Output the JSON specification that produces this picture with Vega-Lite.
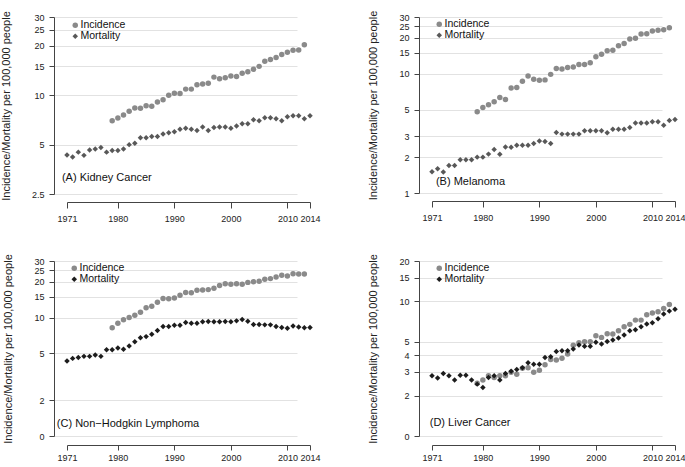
{
"$schema": "https://vega.github.io/schema/vega-lite/v6.json",
"background": "white",
"padding": {"left": 0, "top": 10, "right": 0, "bottom": 0},
"datasets": {
"A": [
{"series":"Incidence","year":1979,"value":7.0},{"series":"Incidence","year":1980,"value":7.27},{"series":"Incidence","year":1981,"value":7.58},{"series":"Incidence","year":1982,"value":7.98},{"series":"Incidence","year":1983,"value":8.36},{"series":"Incidence","year":1984,"value":8.33},{"series":"Incidence","year":1985,"value":8.64},{"series":"Incidence","year":1986,"value":8.56},{"series":"Incidence","year":1987,"value":9.1},{"series":"Incidence","year":1988,"value":9.4},
{"series":"Incidence","year":1989,"value":10.0},{"series":"Incidence","year":1990,"value":10.3},{"series":"Incidence","year":1991,"value":10.25},{"series":"Incidence","year":1992,"value":10.9},{"series":"Incidence","year":1993,"value":10.9},{"series":"Incidence","year":1994,"value":11.6},{"series":"Incidence","year":1995,"value":11.7},{"series":"Incidence","year":1996,"value":11.85},{"series":"Incidence","year":1997,"value":12.9},{"series":"Incidence","year":1998,"value":12.6},
{"series":"Incidence","year":1999,"value":12.8},{"series":"Incidence","year":2000,"value":13.1},{"series":"Incidence","year":2001,"value":13.0},{"series":"Incidence","year":2002,"value":13.6},{"series":"Incidence","year":2003,"value":13.9},{"series":"Incidence","year":2004,"value":14.4},{"series":"Incidence","year":2005,"value":15.0},{"series":"Incidence","year":2006,"value":16.1},{"series":"Incidence","year":2007,"value":16.5},{"series":"Incidence","year":2008,"value":17.0},
{"series":"Incidence","year":2009,"value":17.7},{"series":"Incidence","year":2010,"value":18.3},{"series":"Incidence","year":2011,"value":18.8},{"series":"Incidence","year":2012,"value":18.9},{"series":"Incidence","year":2013,"value":20.3},
{"series":"Mortality","year":1971,"value":4.32},{"series":"Mortality","year":1972,"value":4.2},{"series":"Mortality","year":1973,"value":4.5},{"series":"Mortality","year":1974,"value":4.3},{"series":"Mortality","year":1975,"value":4.63},{"series":"Mortality","year":1976,"value":4.7},{"series":"Mortality","year":1977,"value":4.8},{"series":"Mortality","year":1978,"value":4.5},{"series":"Mortality","year":1979,"value":4.6},{"series":"Mortality","year":1980,"value":4.6},
{"series":"Mortality","year":1981,"value":4.7},{"series":"Mortality","year":1982,"value":5.0},{"series":"Mortality","year":1983,"value":5.1},{"series":"Mortality","year":1984,"value":5.5},{"series":"Mortality","year":1985,"value":5.5},{"series":"Mortality","year":1986,"value":5.6},{"series":"Mortality","year":1987,"value":5.6},{"series":"Mortality","year":1988,"value":5.8},{"series":"Mortality","year":1989,"value":5.9},{"series":"Mortality","year":1990,"value":6.0},
{"series":"Mortality","year":1991,"value":6.2},{"series":"Mortality","year":1992,"value":6.3},{"series":"Mortality","year":1993,"value":6.2},{"series":"Mortality","year":1994,"value":6.1},{"series":"Mortality","year":1995,"value":6.4},{"series":"Mortality","year":1996,"value":6.1},{"series":"Mortality","year":1997,"value":6.35},{"series":"Mortality","year":1998,"value":6.4},{"series":"Mortality","year":1999,"value":6.4},{"series":"Mortality","year":2000,"value":6.3},
{"series":"Mortality","year":2001,"value":6.5},{"series":"Mortality","year":2002,"value":6.7},{"series":"Mortality","year":2003,"value":6.7},{"series":"Mortality","year":2004,"value":7.1},{"series":"Mortality","year":2005,"value":7.0},{"series":"Mortality","year":2006,"value":7.3},{"series":"Mortality","year":2007,"value":7.3},{"series":"Mortality","year":2008,"value":7.2},{"series":"Mortality","year":2009,"value":7.0},{"series":"Mortality","year":2010,"value":7.4},
{"series":"Mortality","year":2011,"value":7.5},{"series":"Mortality","year":2012,"value":7.5},{"series":"Mortality","year":2013,"value":7.2},{"series":"Mortality","year":2014,"value":7.5}
],
"B": [
{"series":"Incidence","year":1979,"value":4.8},{"series":"Incidence","year":1980,"value":5.22},{"series":"Incidence","year":1981,"value":5.5},{"series":"Incidence","year":1982,"value":5.82},{"series":"Incidence","year":1983,"value":6.33},{"series":"Incidence","year":1984,"value":6.09},{"series":"Incidence","year":1985,"value":7.62},{"series":"Incidence","year":1986,"value":7.67},{"series":"Incidence","year":1987,"value":8.67},{"series":"Incidence","year":1988,"value":9.6},
{"series":"Incidence","year":1989,"value":9.0},{"series":"Incidence","year":1990,"value":8.85},{"series":"Incidence","year":1991,"value":8.9},{"series":"Incidence","year":1992,"value":9.9},{"series":"Incidence","year":1993,"value":11.1},{"series":"Incidence","year":1994,"value":11.0},{"series":"Incidence","year":1995,"value":11.3},{"series":"Incidence","year":1996,"value":11.4},{"series":"Incidence","year":1997,"value":12.0},{"series":"Incidence","year":1998,"value":12.0},
{"series":"Incidence","year":1999,"value":12.4},{"series":"Incidence","year":2000,"value":13.9},{"series":"Incidence","year":2001,"value":14.6},{"series":"Incidence","year":2002,"value":15.6},{"series":"Incidence","year":2003,"value":15.8},{"series":"Incidence","year":2004,"value":17.2},{"series":"Incidence","year":2005,"value":18.0},{"series":"Incidence","year":2006,"value":19.6},{"series":"Incidence","year":2007,"value":19.9},{"series":"Incidence","year":2008,"value":21.6},
{"series":"Incidence","year":2009,"value":21.7},{"series":"Incidence","year":2010,"value":22.9},{"series":"Incidence","year":2011,"value":23.2},{"series":"Incidence","year":2012,"value":23.4},{"series":"Incidence","year":2013,"value":24.4},
{"series":"Mortality","year":1971,"value":1.51},{"series":"Mortality","year":1972,"value":1.6},{"series":"Mortality","year":1973,"value":1.5},{"series":"Mortality","year":1974,"value":1.7},{"series":"Mortality","year":1975,"value":1.7},{"series":"Mortality","year":1976,"value":1.9},{"series":"Mortality","year":1977,"value":1.9},{"series":"Mortality","year":1978,"value":1.9},{"series":"Mortality","year":1979,"value":2.0},{"series":"Mortality","year":1980,"value":2.0},
{"series":"Mortality","year":1981,"value":2.12},{"series":"Mortality","year":1982,"value":2.32},{"series":"Mortality","year":1983,"value":2.11},{"series":"Mortality","year":1984,"value":2.43},{"series":"Mortality","year":1985,"value":2.42},{"series":"Mortality","year":1986,"value":2.52},{"series":"Mortality","year":1987,"value":2.52},{"series":"Mortality","year":1988,"value":2.52},{"series":"Mortality","year":1989,"value":2.6},{"series":"Mortality","year":1990,"value":2.73},
{"series":"Mortality","year":1991,"value":2.7},{"series":"Mortality","year":1992,"value":2.6},{"series":"Mortality","year":1993,"value":3.22},{"series":"Mortality","year":1994,"value":3.12},{"series":"Mortality","year":1995,"value":3.12},{"series":"Mortality","year":1996,"value":3.12},{"series":"Mortality","year":1997,"value":3.12},{"series":"Mortality","year":1998,"value":3.33},{"series":"Mortality","year":1999,"value":3.33},{"series":"Mortality","year":2000,"value":3.33},
{"series":"Mortality","year":2001,"value":3.33},{"series":"Mortality","year":2002,"value":3.2},{"series":"Mortality","year":2003,"value":3.43},{"series":"Mortality","year":2004,"value":3.43},{"series":"Mortality","year":2005,"value":3.43},{"series":"Mortality","year":2006,"value":3.55},{"series":"Mortality","year":2007,"value":3.86},{"series":"Mortality","year":2008,"value":3.86},{"series":"Mortality","year":2009,"value":3.86},{"series":"Mortality","year":2010,"value":3.96},
{"series":"Mortality","year":2011,"value":3.96},{"series":"Mortality","year":2012,"value":3.7},{"series":"Mortality","year":2013,"value":4.06},{"series":"Mortality","year":2014,"value":4.14}
],
"C": [
{"series":"Incidence","year":1979,"value":8.2},{"series":"Incidence","year":1980,"value":8.96},{"series":"Incidence","year":1981,"value":9.56},{"series":"Incidence","year":1982,"value":10.0},{"series":"Incidence","year":1983,"value":10.46},{"series":"Incidence","year":1984,"value":11.1},{"series":"Incidence","year":1985,"value":12.1},{"series":"Incidence","year":1986,"value":12.45},{"series":"Incidence","year":1987,"value":13.45},{"series":"Incidence","year":1988,"value":14.5},
{"series":"Incidence","year":1989,"value":14.4},{"series":"Incidence","year":1990,"value":14.6},{"series":"Incidence","year":1991,"value":15.4},{"series":"Incidence","year":1992,"value":16.3},{"series":"Incidence","year":1993,"value":16.2},{"series":"Incidence","year":1994,"value":17.0},{"series":"Incidence","year":1995,"value":17.1},{"series":"Incidence","year":1996,"value":17.2},{"series":"Incidence","year":1997,"value":17.7},{"series":"Incidence","year":1998,"value":18.6},
{"series":"Incidence","year":1999,"value":19.3},{"series":"Incidence","year":2000,"value":19.1},{"series":"Incidence","year":2001,"value":19.3},{"series":"Incidence","year":2002,"value":19.1},{"series":"Incidence","year":2003,"value":19.8},{"series":"Incidence","year":2004,"value":20.05},{"series":"Incidence","year":2005,"value":20.2},{"series":"Incidence","year":2006,"value":21.0},{"series":"Incidence","year":2007,"value":21.3},{"series":"Incidence","year":2008,"value":22.0},
{"series":"Incidence","year":2009,"value":22.7},{"series":"Incidence","year":2010,"value":22.4},{"series":"Incidence","year":2011,"value":23.4},{"series":"Incidence","year":2012,"value":23.3},{"series":"Incidence","year":2013,"value":23.3},
{"series":"Mortality","year":1971,"value":4.3},{"series":"Mortality","year":1972,"value":4.52},{"series":"Mortality","year":1973,"value":4.6},{"series":"Mortality","year":1974,"value":4.7},{"series":"Mortality","year":1975,"value":4.7},{"series":"Mortality","year":1976,"value":4.83},{"series":"Mortality","year":1977,"value":4.7},{"series":"Mortality","year":1978,"value":5.35},{"series":"Mortality","year":1979,"value":5.35},{"series":"Mortality","year":1980,"value":5.53},
{"series":"Mortality","year":1981,"value":5.4},{"series":"Mortality","year":1982,"value":5.74},{"series":"Mortality","year":1983,"value":6.24},{"series":"Mortality","year":1984,"value":6.75},{"series":"Mortality","year":1985,"value":6.9},{"series":"Mortality","year":1986,"value":7.24},{"series":"Mortality","year":1987,"value":7.78},{"series":"Mortality","year":1988,"value":8.4},{"series":"Mortality","year":1989,"value":8.4},{"series":"Mortality","year":1990,"value":8.6},
{"series":"Mortality","year":1991,"value":8.6},{"series":"Mortality","year":1992,"value":9.08},{"series":"Mortality","year":1993,"value":8.96},{"series":"Mortality","year":1994,"value":8.96},{"series":"Mortality","year":1995,"value":9.2},{"series":"Mortality","year":1996,"value":9.26},{"series":"Mortality","year":1997,"value":9.2},{"series":"Mortality","year":1998,"value":9.2},{"series":"Mortality","year":1999,"value":9.26},{"series":"Mortality","year":2000,"value":9.2},
{"series":"Mortality","year":2001,"value":9.37},{"series":"Mortality","year":2002,"value":9.62},{"series":"Mortality","year":2003,"value":9.3},{"series":"Mortality","year":2004,"value":8.73},{"series":"Mortality","year":2005,"value":8.73},{"series":"Mortality","year":2006,"value":8.67},{"series":"Mortality","year":2007,"value":8.67},{"series":"Mortality","year":2008,"value":8.4},{"series":"Mortality","year":2009,"value":8.24},{"series":"Mortality","year":2010,"value":8.13},
{"series":"Mortality","year":2011,"value":8.5},{"series":"Mortality","year":2012,"value":8.3},{"series":"Mortality","year":2013,"value":8.2},{"series":"Mortality","year":2014,"value":8.24}
],
"D": [
{"series":"Incidence","year":1979,"value":2.47},{"series":"Incidence","year":1980,"value":2.61},{"series":"Incidence","year":1981,"value":2.8},{"series":"Incidence","year":1982,"value":2.72},{"series":"Incidence","year":1983,"value":2.8},{"series":"Incidence","year":1984,"value":2.8},{"series":"Incidence","year":1985,"value":2.98},{"series":"Incidence","year":1986,"value":2.88},{"series":"Incidence","year":1987,"value":3.19},{"series":"Incidence","year":1988,"value":3.22},
{"series":"Incidence","year":1989,"value":2.98},{"series":"Incidence","year":1990,"value":3.08},{"series":"Incidence","year":1991,"value":3.38},{"series":"Incidence","year":1992,"value":3.7},{"series":"Incidence","year":1993,"value":3.68},{"series":"Incidence","year":1994,"value":3.79},{"series":"Incidence","year":1995,"value":4.07},{"series":"Incidence","year":1996,"value":4.72},{"series":"Incidence","year":1997,"value":4.94},{"series":"Incidence","year":1998,"value":5.02},
{"series":"Incidence","year":1999,"value":5.02},{"series":"Incidence","year":2000,"value":5.57},{"series":"Incidence","year":2001,"value":5.41},{"series":"Incidence","year":2002,"value":5.76},{"series":"Incidence","year":2003,"value":5.73},{"series":"Incidence","year":2004,"value":6.06},{"series":"Incidence","year":2005,"value":6.49},{"series":"Incidence","year":2006,"value":6.76},{"series":"Incidence","year":2007,"value":7.27},{"series":"Incidence","year":2008,"value":7.27},
{"series":"Incidence","year":2009,"value":7.96},{"series":"Incidence","year":2010,"value":8.2},{"series":"Incidence","year":2011,"value":8.38},{"series":"Incidence","year":2012,"value":8.87},{"series":"Incidence","year":2013,"value":9.5},
{"series":"Mortality","year":1971,"value":2.81},{"series":"Mortality","year":1972,"value":2.7},{"series":"Mortality","year":1973,"value":2.91},{"series":"Mortality","year":1974,"value":2.81},{"series":"Mortality","year":1975,"value":2.61},{"series":"Mortality","year":1976,"value":2.83},{"series":"Mortality","year":1977,"value":2.83},{"series":"Mortality","year":1978,"value":2.61},{"series":"Mortality","year":1979,"value":2.43},{"series":"Mortality","year":1980,"value":2.29},
{"series":"Mortality","year":1981,"value":2.72},{"series":"Mortality","year":1982,"value":2.8},{"series":"Mortality","year":1983,"value":2.61},{"series":"Mortality","year":1984,"value":2.91},{"series":"Mortality","year":1985,"value":3.03},{"series":"Mortality","year":1986,"value":3.12},{"series":"Mortality","year":1987,"value":3.22},{"series":"Mortality","year":1988,"value":3.51},{"series":"Mortality","year":1989,"value":3.41},{"series":"Mortality","year":1990,"value":3.41},
{"series":"Mortality","year":1991,"value":3.83},{"series":"Mortality","year":1992,"value":3.89},{"series":"Mortality","year":1993,"value":4.24},{"series":"Mortality","year":1994,"value":4.31},{"series":"Mortality","year":1995,"value":4.31},{"series":"Mortality","year":1996,"value":4.43},{"series":"Mortality","year":1997,"value":4.75},{"series":"Mortality","year":1998,"value":4.64},{"series":"Mortality","year":1999,"value":4.64},{"series":"Mortality","year":2000,"value":4.97},
{"series":"Mortality","year":2001,"value":4.83},{"series":"Mortality","year":2002,"value":5.05},{"series":"Mortality","year":2003,"value":5.17},{"series":"Mortality","year":2004,"value":5.35},{"series":"Mortality","year":2005,"value":5.63},{"series":"Mortality","year":2006,"value":6.06},{"series":"Mortality","year":2007,"value":6.16},{"series":"Mortality","year":2008,"value":6.49},{"series":"Mortality","year":2009,"value":6.79},{"series":"Mortality","year":2010,"value":6.95},
{"series":"Mortality","year":2011,"value":7.44},{"series":"Mortality","year":2012,"value":8.06},{"series":"Mortality","year":2013,"value":8.48},{"series":"Mortality","year":2014,"value":8.77}
]
},
"columns": 2,
"spacing": {"row": 30, "column": 46},
"concat": [
{
"width": 243, "height": 177,
"layer": [
{"data": {"name": "A"},
"mark": {"type": "point", "filled": true, "opacity": 1, "size": 30, "strokeWidth": 0},
"encoding": {
"x": {"field": "year", "type": "quantitative", "scale": {"domain": [1971, 2014], "nice": false, "zero": false}, "axis": {"values": [1971, 1980, 1990, 2000, 2010, 2014], "format": "d", "title": null}},
"y": {"field": "value", "type": "quantitative", "scale": {"type": "log", "domain": [2.5, 30], "nice": false}, "axis": {"values": [2.5, 5, 10, 15, 20, 25, 30], "format": "~g", "title": "Incidence/Mortality per 100,000 people"}},
"color": {"field": "series", "type": "nominal", "scale": {"domain": ["Incidence", "Mortality"], "range": ["#8a8a8a", "#585858"]}, "legend": {"orient": "top-left", "title": null, "offset": 3, "padding": 0, "rowPadding": -1, "labelFontSize": 10.5, "labelOffset": 0, "symbolSize": 30}},
"shape": {"field": "series", "type": "nominal", "scale": {"domain": ["Incidence", "Mortality"], "range": ["circle", "diamond"]}, "legend": {"orient": "top-left", "title": null, "offset": 3, "padding": 0, "rowPadding": -1, "labelFontSize": 10.5, "labelOffset": 0, "symbolSize": 30}}
}},
{"data": {"values": [{"label": "(A) Kidney Cancer"}]},
"mark": {"type": "text", "align": "left", "baseline": "middle", "fontSize": 11, "color": "#111"},
"encoding": {"x": {"datum": 1970.1, "type": "quantitative"}, "y": {"datum": 3.13, "type": "quantitative"}, "text": {"field": "label", "type": "nominal"}}}
]
},
{
"width": 243, "height": 176,
"layer": [
{"data": {"name": "B"},
"mark": {"type": "point", "filled": true, "opacity": 1, "size": 30, "strokeWidth": 0},
"encoding": {
"x": {"field": "year", "type": "quantitative", "scale": {"domain": [1971, 2014], "nice": false, "zero": false}, "axis": {"values": [1971, 1980, 1990, 2000, 2010, 2014], "format": "d", "title": null}},
"y": {"field": "value", "type": "quantitative", "scale": {"type": "log", "domain": [1, 30], "nice": false}, "axis": {"values": [1, 2, 3, 5, 10, 15, 20, 25, 30], "format": "~g", "title": "Incidence/Mortality per 100,000 people"}},
"color": {"field": "series", "type": "nominal", "scale": {"domain": ["Incidence", "Mortality"], "range": ["#8a8a8a", "#585858"]}, "legend": {"orient": "top-left", "title": null, "offset": 2, "padding": 0, "rowPadding": -4, "labelFontSize": 10.5, "labelOffset": 0, "symbolSize": 30}},
"shape": {"field": "series", "type": "nominal", "scale": {"domain": ["Incidence", "Mortality"], "range": ["circle", "diamond"]}, "legend": {"orient": "top-left", "title": null, "offset": 2, "padding": 0, "rowPadding": -4, "labelFontSize": 10.5, "labelOffset": 0, "symbolSize": 30}}
}},
{"data": {"values": [{"label": "(B) Melanoma"}]},
"mark": {"type": "text", "align": "left", "baseline": "middle", "fontSize": 11, "color": "#111"},
"encoding": {"x": {"datum": 1971.7, "type": "quantitative"}, "y": {"datum": 1.24, "type": "quantitative"}, "text": {"field": "label", "type": "nominal"}}}
]
},
{
"width": 243, "height": 175,
"layer": [
{"data": {"name": "C"},
"mark": {"type": "point", "filled": true, "opacity": 1, "size": 30, "strokeWidth": 0},
"encoding": {
"x": {"field": "year", "type": "quantitative", "scale": {"domain": [1971, 2014], "nice": false, "zero": false}, "axis": {"values": [1971, 1980, 1990, 2000, 2010, 2014], "format": "d", "title": null, "offset": 9, "tickSize": 5, "labelPadding": 3}},
"y": {"field": "value", "type": "quantitative", "scale": {"type": "log", "domain": [1, 30], "nice": false}, "axis": {"values": [1, 2, 5, 10, 15, 20, 25, 30], "format": "~g", "labelExpr": "datum.value == 1 ? '0' : datum.label", "title": "Incidence/Mortality per 100,000 people"}},
"color": {"field": "series", "type": "nominal", "scale": {"domain": ["Incidence", "Mortality"], "range": ["#8a8a8a", "#1c1c1c"]}, "legend": {"orient": "top-left", "title": null, "offset": 2, "padding": 0, "rowPadding": -4, "labelFontSize": 10.5, "labelOffset": 0, "symbolSize": 30}},
"shape": {"field": "series", "type": "nominal", "scale": {"domain": ["Incidence", "Mortality"], "range": ["circle", "diamond"]}, "legend": {"orient": "top-left", "title": null, "offset": 2, "padding": 0, "rowPadding": -4, "labelFontSize": 10.5, "labelOffset": 0, "symbolSize": 30}}
}},
{"data": {"values": [{"label": "(C) Non−Hodgkin Lymphoma"}]},
"mark": {"type": "text", "align": "left", "baseline": "middle", "fontSize": 11, "color": "#111"},
"encoding": {"x": {"datum": 1969.2, "type": "quantitative"}, "y": {"datum": 1.26, "type": "quantitative"}, "text": {"field": "label", "type": "nominal"}}}
]
},
{
"width": 243, "height": 175,
"layer": [
{"data": {"name": "D"},
"mark": {"type": "point", "filled": true, "opacity": 1, "size": 30, "strokeWidth": 0},
"encoding": {
"x": {"field": "year", "type": "quantitative", "scale": {"domain": [1971, 2014], "nice": false, "zero": false}, "axis": {"values": [1971, 1980, 1990, 2000, 2010, 2014], "format": "d", "title": null, "offset": 9, "tickSize": 5, "labelPadding": 3}},
"y": {"field": "value", "type": "quantitative", "scale": {"type": "log", "domain": [1, 20], "nice": false}, "axis": {"values": [1, 2, 3, 4, 5, 10, 15, 20], "format": "~g", "labelExpr": "datum.value == 1 ? '0' : datum.label", "title": "Incidence/Mortality per 100,000 people"}},
"color": {"field": "series", "type": "nominal", "scale": {"domain": ["Incidence", "Mortality"], "range": ["#8a8a8a", "#1c1c1c"]}, "legend": {"orient": "top-left", "title": null, "offset": 2, "padding": 0, "rowPadding": -4, "labelFontSize": 10.5, "labelOffset": 0, "symbolSize": 30}},
"shape": {"field": "series", "type": "nominal", "scale": {"domain": ["Incidence", "Mortality"], "range": ["circle", "diamond"]}, "legend": {"orient": "top-left", "title": null, "offset": 2, "padding": 0, "rowPadding": -4, "labelFontSize": 10.5, "labelOffset": 0, "symbolSize": 30}}
}},
{"data": {"values": [{"label": "(D) Liver Cancer"}]},
"mark": {"type": "text", "align": "left", "baseline": "middle", "fontSize": 11, "color": "#111"},
"encoding": {"x": {"datum": 1970.6, "type": "quantitative"}, "y": {"datum": 1.25, "type": "quantitative"}, "text": {"field": "label", "type": "nominal"}}}
]
}
],
"resolve": {"scale": {"x": "independent", "y": "independent", "color": "independent", "shape": "independent"}},
"config": {
"font": "Liberation Sans",
"view": {"stroke": null},
"axis": {"labelFont": "Liberation Sans", "titleFont": "Liberation Sans", "labelFontSize": 9, "labelColor": "#222", "titleFontSize": 11, "titleFontWeight": "normal", "titleColor": "#222", "domainColor": "#444", "tickColor": "#444", "gridColor": "#e2e2e2"},
"axisX": {"tickSize": 6, "labelPadding": 6, "offset": 8, "grid": false, "labelOverlap": false, "labelFlush": false},
"axisY": {"tickSize": 5, "labelPadding": 5, "offset": 13, "grid": true, "titlePadding": 20, "labelOverlap": false},
"legend": {"labelFont": "Liberation Sans", "labelColor": "#111", "symbolStrokeWidth": 0}
}
}
